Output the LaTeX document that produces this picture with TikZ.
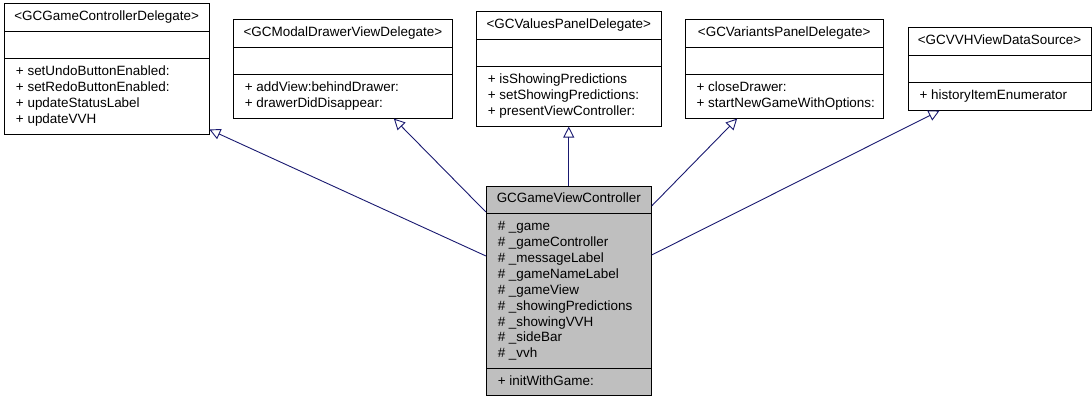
\documentclass[tikz,border=0pt]{standalone}
\usepackage{fontspec}
\setmainfont{Liberation Sans}
\usepackage{tikz}
\usetikzlibrary{arrows.meta,positioning,shapes.multipart}
\definecolor{edgeblue}{HTML}{191970}
\definecolor{classgrey}{HTML}{BFBFBF}
\newcommand{\members}[1]{\begin{tabular}{@{\hspace{4.5bp}}l@{}}#1\end{tabular}}

\begin{document}
\begin{tikzpicture}[x=1bp,y=1bp]
        \tikzstyle{iface} = [rectangle split, rectangle split parts=3, draw, fill=white,
            line width=0.9bp, inner xsep=7bp, inner ysep=5.3bp,
            rectangle split part align={center,left,left},
            font=\fontsize{13.5}{16}\selectfont]
        \tikzstyle{inherit} = [-{Triangle[open,length=11bp,width=11bp]}, draw=edgeblue, line width=0.9bp]
        \useasboundingbox (0,0) rectangle (1092,-400);

        % Nodes
        \node[iface, minimum width=204.5bp, anchor=west] (gcd) at (4,-69)
            {\strut<GCGameControllerDelegate>
             \nodepart{two}\strut
             \nodepart{three}\members{+ setUndoButtonEnabled:\\+ setRedoButtonEnabled:\\+ updateStatusLabel\\+ updateVVH}};
        \node[iface, minimum width=219bp, right=23.5bp of gcd] (mdd)
            {\strut<GCModalDrawerViewDelegate>
             \nodepart{two}\strut
             \nodepart{three}\members{+ addView:behindDrawer:\\+ drawerDidDisappear:}};
        \node[iface, minimum width=185bp, right=23bp of mdd] (vpd)
            {\strut<GCValuesPanelDelegate>
             \nodepart{two}\strut
             \nodepart{three}\members{+ isShowingPredictions\\+ setShowingPredictions:\\+ presentViewController:}};
        \node[iface, minimum width=198bp, right=23bp of vpd] (vard)
            {\strut<GCVariantsPanelDelegate>
             \nodepart{two}\strut
             \nodepart{three}\members{+ closeDrawer:\\+ startNewGameWithOptions:}};
        \node[iface, minimum width=183bp, right=24bp of vard] (vvh)
            {\strut<GCVVHViewDataSource>
             \nodepart{two}\strut
             \nodepart{three}\members{+ historyItemEnumerator}};
        \node[iface, fill=classgrey, minimum width=165bp, below=59bp of vpd] (gvc)
            {\strut GCGameViewController
             \nodepart{two}\members{\# \_game\\\# \_gameController\\\# \_messageLabel\\\# \_gameNameLabel\\\# \_gameView\\\# \_showingPredictions\\\# \_showingVVH\\\# \_sideBar\\\# \_vvh}
             \nodepart{three}\members{+ initWithGame:}};

        % Edges
        \draw[inherit] ([yshift=35bp]gvc.west) -- ([yshift=5bp]gcd.south east);
        \draw[inherit] ([yshift=79bp]gvc.west) -- ([xshift=51bp]mdd.south);
        \draw[inherit] (gvc.north) -- (vpd.south);
        \draw[inherit] ([yshift=85bp]gvc.east) -- ([xshift=-47bp]vard.south);
        \draw[inherit] ([yshift=36bp]gvc.east) -- ([xshift=-60bp]vvh.south);
    \end{tikzpicture}
\end{document}
